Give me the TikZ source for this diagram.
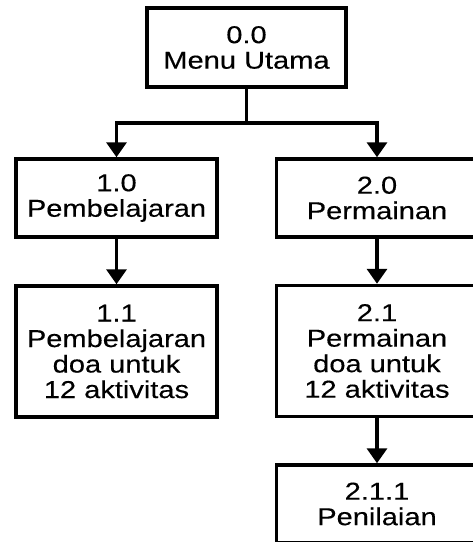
\documentclass[tikz,border=0pt]{standalone}
\usepackage{fontspec}
\setmainfont[FakeStretch=1.19,FakeBold=0.3]{Liberation Sans}
\usetikzlibrary{arrows.meta}
\tikzstyle{menubox}=[draw,line width=3.5pt,minimum width=201pt,minimum height=78pt,align=center,inner sep=2pt,font=\fontsize{24.4}{25.5}\selectfont]
\tikzstyle{menubox_tall}=[menubox,minimum height=131pt]
\tikzstyle{link}=[line width=3.5pt]
\tikzstyle{link_arrow}=[link,-{Triangle[width=20pt,length=15pt]}]

\begin{document}
\begin{tikzpicture}[x=1pt,y=1pt]  % menu hierarchy

\clip (0,0) rectangle (473,-542);

\node[menubox,minimum width=199pt,minimum height=79pt] (utama) at (246.5,-47.5) {0.0\\Menu Utama};

\node[menubox] (belajar) at (116.5,-198) {1.0\\Pembelajaran};
\node[menubox] (main) at (377,-198) {2.0\\Permainan};

\node[menubox_tall] (belajardoa) at (116.5,-351.5) {1.1\\Pembelajaran\\doa untuk\\12 aktivitas};
\node[menubox_tall] (maindoa) at (377,-351) {2.1\\Permainan\\doa untuk\\12 aktivitas};

\node[menubox] (nilai) at (377,-504) {2.1.1\\Penilaian};

\coordinate (cabang) at (246.5,-123);
\draw[link] (utama) -- (cabang);
\draw[link_arrow] (cabang) -| (belajar);
\draw[link_arrow] (cabang) -| (main);

\draw[link_arrow] (belajar) -- (belajardoa);
\draw[link_arrow] (main) -- (maindoa);
\draw[link_arrow] (maindoa) -- (nilai);
\end{tikzpicture}
\end{document}
